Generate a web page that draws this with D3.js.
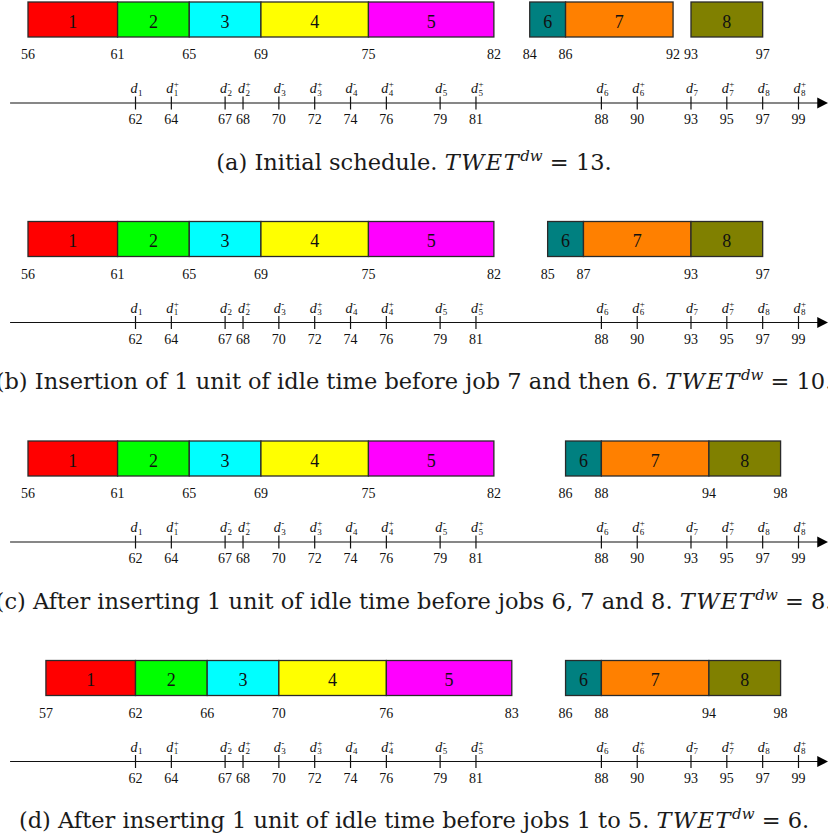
<!DOCTYPE html>
<html lang="en">
<head>
    <meta charset="UTF-8">
    <title>Schedule with idle time insertion</title>
    <script src="https://d3js.org/d3.v7.min.js"></script>
    <style>
        body { margin: 0; background: #fff; overflow: hidden; }
        svg { display: block; font-family: "Liberation Serif", "Times New Roman", serif; }
        .bar { stroke: #2a2a2a; stroke-width: 1.3; }
        .axis-line { stroke: #111; stroke-width: 1.2; }
        .tick { stroke: #111; stroke-width: 1.2; }
        .caption { font-family: "DejaVu Serif", serif; }
    </style>
</head>
<body>
<div id="chart"></div>
<script>
    // jobs, durations and colours
    const jobs = [1, 2, 3, 4, 5, 6, 7, 8];
    const durations = [5, 4, 4, 6, 7, 2, 6, 4];
    const jobColors = ["#ff0000", "#00ff00", "#00ffff", "#ffff00", "#ff00ff", "#008080", "#ff8000", "#808000"];

    // start times of each job, one array per schedule
    const startsA = [56, 61, 65, 69, 75, 84, 86, 93];
    const startsB = [56, 61, 65, 69, 75, 85, 87, 93];
    const startsC = [56, 61, 65, 69, 75, 86, 88, 94];
    const startsD = [57, 62, 66, 70, 76, 86, 88, 94];

    // time labels written under the bars
    const timeLabelsA = [56, 61, 65, 69, 75, 82, 84, 86, 92, 93, 97];
    const timeLabelsB = [56, 61, 65, 69, 75, 82, 85, 87, 93, 97];
    const timeLabelsC = [56, 61, 65, 69, 75, 82, 86, 88, 94, 98];
    const timeLabelsD = [57, 62, 66, 70, 76, 83, 86, 88, 94, 98];

    // due windows on the time line
    const dueValues = [62, 64, 67, 68, 70, 72, 74, 76, 79, 81, 88, 90, 93, 95, 97, 99];
    const dueSubs   = ["1", "1", "2", "2", "3", "3", "4", "4", "5", "5", "6", "6", "7", "7", "8", "8"];
    const dueSups   = ["", "+", "-", "+", "-", "+", "-", "+", "-", "+", "-", "+", "-", "+", "-", "+"];

    // captions: plain text before the TWET term, and its value
    const captionTexts = [
        "(a) Initial schedule. ",
        "(b) Insertion of 1 unit of idle time before job 7 and then 6. ",
        "(c) After inserting 1 unit of idle time before jobs 6, 7 and 8. ",
        "(d) After inserting 1 unit of idle time before jobs 1 to 5. "
    ];
    const twetValues = [13, 10, 8, 6];

    const panels = [
        { starts: startsA, labels: timeLabelsA },
        { starts: startsB, labels: timeLabelsB },
        { starts: startsC, labels: timeLabelsC },
        { starts: startsD, labels: timeLabelsD }
    ];

    const width = 828, height = 840;
    const panelStep = 219.5;

    const svg = d3.select("#chart").append("svg")
        .attr("width", width)
        .attr("height", height);

    const x = d3.scaleLinear()
        .domain([56, 99])
        .range([28, 798.5]);

    panels.forEach((p, i) => {
        const g = svg.append("g")
            .attr("transform", `translate(0, ${2 + i * panelStep})`);

        const barH = 35;
        const rows = jobs.map((j, k) => ({ job: j, start: p.starts[k], dur: durations[k], color: jobColors[k] }));

        // job bars
        g.selectAll("rect.bar")
            .data(rows)
            .join("rect")
            .attr("class", "bar")
            .attr("x", d => x(d.start))
            .attr("y", 0)
            .attr("width", d => x(d.start + d.dur) - x(d.start))
            .attr("height", barH)
            .attr("fill", d => d.color);

        g.selectAll("text.job")
            .data(rows)
            .join("text")
            .attr("class", "job")
            .attr("x", d => x(d.start + d.dur / 2))
            .attr("y", 25.5)
            .attr("text-anchor", "middle")
            .style("font-size", "18px")
            .attr("fill", "#111")
            .text(d => d.job);

        // times under bars
        g.selectAll("text.time")
            .data(p.labels)
            .join("text")
            .attr("class", "time")
            .attr("x", d => x(d))
            .attr("y", 57)
            .attr("text-anchor", "middle")
            .style("font-size", "14px")
            .attr("fill", "#111")
            .text(d => d);

        // time line
        const axisY = 101;
        g.append("line")
            .attr("class", "axis-line")
            .attr("x1", x(55))
            .attr("x2", x(100.1))
            .attr("y1", axisY)
            .attr("y2", axisY);

        const tip = x(100.66);
        g.append("path")
            .attr("d", `M${tip},${axisY} L${tip - 11},${axisY - 5.5} L${tip - 11},${axisY + 5.5} Z`)
            .attr("fill", "#000");

        const due = dueValues.map((v, k) => ({ v: v, sub: dueSubs[k], sup: dueSups[k] }));

        g.selectAll("line.tick")
            .data(due)
            .join("line")
            .attr("class", "tick")
            .attr("x1", d => x(d.v))
            .attr("x2", d => x(d.v))
            .attr("y1", axisY - 6.5)
            .attr("y2", axisY + 6.5);

        g.selectAll("text.due-num")
            .data(due)
            .join("text")
            .attr("class", "due-num")
            .attr("x", d => x(d.v))
            .attr("y", axisY + 21)
            .attr("text-anchor", "middle")
            .style("font-size", "14px")
            .attr("fill", "#111")
            .text(d => d.v);

        // d labels with stacked sub/superscripts
        const dl = g.selectAll("g.due-lab")
            .data(due)
            .join("g")
            .attr("class", "due-lab")
            .attr("transform", d => `translate(${x(d.v)}, ${axisY - 10})`);

        dl.append("text")
            .attr("x", -5)
            .attr("text-anchor", "start")
            .style("font-size", "14px")
            .style("font-style", "italic")
            .attr("fill", "#111")
            .text("d");

        dl.append("text")
            .attr("x", 2.5)
            .attr("y", 2.5)
            .style("font-size", "9px")
            .attr("fill", "#111")
            .text(d => d.sub);

        dl.append("text")
            .attr("x", 2.5)
            .attr("y", -6)
            .style("font-size", "9px")
            .attr("fill", "#111")
            .text(d => d.sup);

        // caption (centred on the page, long ones run to the edges like the original)
        const cap = g.append("text")
            .attr("class", "caption")
            .attr("x", width / 2)
            .attr("y", 167.5)
            .attr("text-anchor", "middle")
            .style("font-size", "22.5px")
            .attr("fill", "#1a1a1a");

        cap.append("tspan").text(captionTexts[i]);
        cap.append("tspan")
            .style("font-style", "italic")
            .attr("letter-spacing", "1.5px")
            .text("TWET");
        cap.append("tspan")
            .style("font-style", "italic")
            .style("font-size", "15px")
            .attr("dy", -9)
            .text("dw");
        cap.append("tspan")
            .attr("dy", 9)
            .text(` = ${twetValues[i]}.`);
    });
</script>
</body>
</html>
